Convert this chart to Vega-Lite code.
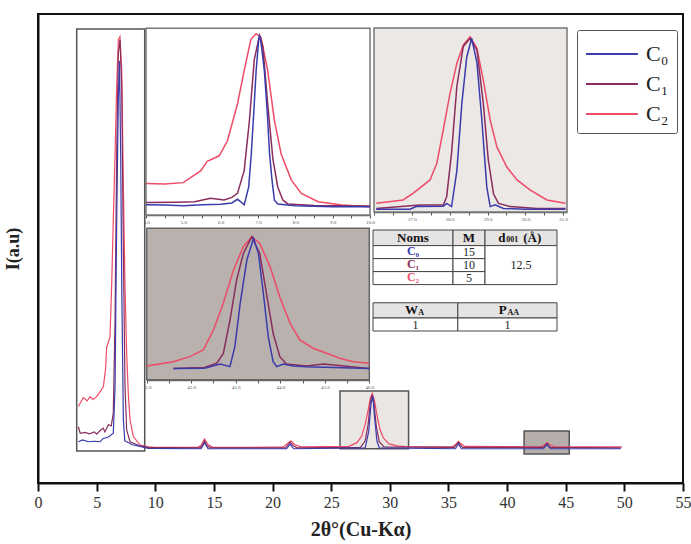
{
  "$schema": "https://vega.github.io/schema/vega-lite/v6.json",
  "width": 645,
  "height": 469,
  "autosize": {"type": "none"},
  "padding": {"left": 38, "top": 14, "right": 8, "bottom": 61},
  "background": "white",
  "config": {
    "view": {"stroke": "#111", "strokeWidth": 2},
    "font": "Liberation Serif",
    "axis": {"grid": false}
  },
  "resolve": {
    "scale": {"x": "independent", "y": "independent", "fill": "independent"},
    "axis": {"x": "independent", "y": "independent"}
  },
  "datasets": {
    "boxes": [
      {"k": "b1", "x0": 3.3, "x1": 9.1, "y0": 6.8, "y1": 96.8},
      {"k": "b2", "x0": 25.75, "x1": 31.6, "y0": 7.3, "y1": 19.6},
      {"k": "b3", "x0": 41.45, "x1": 45.3, "y0": 6.2, "y1": 11.1}
    ],
    "main": [
      {"s": "C₂", "x": 3.44, "y": 16.3}, {"s": "C₂", "x": 3.86, "y": 18.2}, {"s": "C₂", "x": 4.2, "y": 17.5}, {"s": "C₂", "x": 4.43, "y": 18.4}, {"s": "C₂", "x": 4.7, "y": 17.8}, {"s": "C₂", "x": 5.0, "y": 18.4}, {"s": "C₂", "x": 5.3, "y": 19.5}, {"s": "C₂", "x": 5.57, "y": 20.5}, {"s": "C₂", "x": 5.75, "y": 24}, {"s": "C₂", "x": 5.86, "y": 29}, {"s": "C₂", "x": 6.0, "y": 30}, {"s": "C₂", "x": 6.14, "y": 31.2}, {"s": "C₂", "x": 6.28, "y": 41.9}, {"s": "C₂", "x": 6.42, "y": 56}, {"s": "C₂", "x": 6.57, "y": 70}, {"s": "C₂", "x": 6.71, "y": 84.5}, {"s": "C₂", "x": 6.85, "y": 94.5}, {"s": "C₂", "x": 6.99, "y": 95.2}, {"s": "C₂", "x": 7.14, "y": 88}, {"s": "C₂", "x": 7.28, "y": 63}, {"s": "C₂", "x": 7.42, "y": 41.9}, {"s": "C₂", "x": 7.56, "y": 27.7}, {"s": "C₂", "x": 7.7, "y": 19}, {"s": "C₂", "x": 7.85, "y": 13.4}, {"s": "C₂", "x": 8.13, "y": 9.9}, {"s": "C₂", "x": 8.7, "y": 8.1}, {"s": "C₂", "x": 9.41, "y": 7.7}, {"s": "C₂", "x": 10, "y": 7.6}, {"s": "C₂", "x": 13.6, "y": 7.6}, {"s": "C₂", "x": 13.9, "y": 8.0}, {"s": "C₂", "x": 14.2, "y": 9.4}, {"s": "C₂", "x": 14.5, "y": 8.2}, {"s": "C₂", "x": 14.9, "y": 7.6}, {"s": "C₂", "x": 18, "y": 7.6}, {"s": "C₂", "x": 20.9, "y": 7.7}, {"s": "C₂", "x": 21.3, "y": 8.5}, {"s": "C₂", "x": 21.55, "y": 9.0}, {"s": "C₂", "x": 21.9, "y": 8.2}, {"s": "C₂", "x": 22.4, "y": 7.7}, {"s": "C₂", "x": 26.5, "y": 7.8}, {"s": "C₂", "x": 27.2, "y": 8.6}, {"s": "C₂", "x": 27.6, "y": 10}, {"s": "C₂", "x": 27.9, "y": 12.5}, {"s": "C₂", "x": 28.15, "y": 15.5}, {"s": "C₂", "x": 28.35, "y": 18.2}, {"s": "C₂", "x": 28.5, "y": 19.1}, {"s": "C₂", "x": 28.7, "y": 17.5}, {"s": "C₂", "x": 28.9, "y": 14.5}, {"s": "C₂", "x": 29.15, "y": 11.5}, {"s": "C₂", "x": 29.45, "y": 9.6}, {"s": "C₂", "x": 29.9, "y": 8.4}, {"s": "C₂", "x": 30.6, "y": 7.9}, {"s": "C₂", "x": 31.5, "y": 7.7}, {"s": "C₂", "x": 35.3, "y": 7.7}, {"s": "C₂", "x": 35.6, "y": 8.2}, {"s": "C₂", "x": 35.85, "y": 8.9}, {"s": "C₂", "x": 36.1, "y": 8.3}, {"s": "C₂", "x": 36.4, "y": 7.8}, {"s": "C₂", "x": 42.8, "y": 7.7}, {"s": "C₂", "x": 43.1, "y": 8.0}, {"s": "C₂", "x": 43.4, "y": 8.6}, {"s": "C₂", "x": 43.7, "y": 8.1}, {"s": "C₂", "x": 44.1, "y": 7.7}, {"s": "C₂", "x": 49.8, "y": 7.7},
      {"s": "C₁", "x": 3.44, "y": 12}, {"s": "C₁", "x": 3.6, "y": 10.6}, {"s": "C₁", "x": 4.0, "y": 10.8}, {"s": "C₁", "x": 4.4, "y": 10.5}, {"s": "C₁", "x": 4.8, "y": 10.9}, {"s": "C₁", "x": 5.0, "y": 10.4}, {"s": "C₁", "x": 5.3, "y": 11.2}, {"s": "C₁", "x": 5.57, "y": 11.7}, {"s": "C₁", "x": 5.7, "y": 10.9}, {"s": "C₁", "x": 5.85, "y": 11.6}, {"s": "C₁", "x": 6.0, "y": 12.4}, {"s": "C₁", "x": 6.25, "y": 12.2}, {"s": "C₁", "x": 6.42, "y": 14.9}, {"s": "C₁", "x": 6.57, "y": 34.8}, {"s": "C₁", "x": 6.71, "y": 70.3}, {"s": "C₁", "x": 6.85, "y": 91.6}, {"s": "C₁", "x": 6.99, "y": 94.5}, {"s": "C₁", "x": 7.14, "y": 84.5}, {"s": "C₁", "x": 7.28, "y": 49}, {"s": "C₁", "x": 7.42, "y": 20.5}, {"s": "C₁", "x": 7.56, "y": 11.3}, {"s": "C₁", "x": 7.85, "y": 8.8}, {"s": "C₁", "x": 8.7, "y": 7.9}, {"s": "C₁", "x": 9.4, "y": 7.6}, {"s": "C₁", "x": 13.8, "y": 7.5}, {"s": "C₁", "x": 14.0, "y": 8.0}, {"s": "C₁", "x": 14.2, "y": 9.0}, {"s": "C₁", "x": 14.4, "y": 8.0}, {"s": "C₁", "x": 14.7, "y": 7.5}, {"s": "C₁", "x": 21.1, "y": 7.5}, {"s": "C₁", "x": 21.35, "y": 8.3}, {"s": "C₁", "x": 21.5, "y": 8.7}, {"s": "C₁", "x": 21.75, "y": 8.0}, {"s": "C₁", "x": 22.1, "y": 7.5}, {"s": "C₁", "x": 27.5, "y": 7.6}, {"s": "C₁", "x": 27.9, "y": 9.0}, {"s": "C₁", "x": 28.15, "y": 12.5}, {"s": "C₁", "x": 28.35, "y": 17.5}, {"s": "C₁", "x": 28.5, "y": 18.8}, {"s": "C₁", "x": 28.65, "y": 17}, {"s": "C₁", "x": 28.85, "y": 12}, {"s": "C₁", "x": 29.1, "y": 8.8}, {"s": "C₁", "x": 29.5, "y": 7.7}, {"s": "C₁", "x": 35.5, "y": 7.6}, {"s": "C₁", "x": 35.85, "y": 8.7}, {"s": "C₁", "x": 36.2, "y": 7.6}, {"s": "C₁", "x": 43.1, "y": 7.6}, {"s": "C₁", "x": 43.4, "y": 8.5}, {"s": "C₁", "x": 43.7, "y": 7.6}, {"s": "C₁", "x": 49.7, "y": 7.5},
      {"s": "C₀", "x": 3.44, "y": 8.8}, {"s": "C₀", "x": 3.8, "y": 9.2}, {"s": "C₀", "x": 4.3, "y": 8.8}, {"s": "C₀", "x": 4.8, "y": 8.9}, {"s": "C₀", "x": 5.3, "y": 8.8}, {"s": "C₀", "x": 5.57, "y": 9.5}, {"s": "C₀", "x": 6.0, "y": 9.8}, {"s": "C₀", "x": 6.42, "y": 10.6}, {"s": "C₀", "x": 6.57, "y": 20.5}, {"s": "C₀", "x": 6.71, "y": 56}, {"s": "C₀", "x": 6.85, "y": 82}, {"s": "C₀", "x": 6.95, "y": 90}, {"s": "C₀", "x": 7.05, "y": 70}, {"s": "C₀", "x": 7.15, "y": 40}, {"s": "C₀", "x": 7.28, "y": 13.4}, {"s": "C₀", "x": 7.4, "y": 9}, {"s": "C₀", "x": 7.56, "y": 8.8}, {"s": "C₀", "x": 8.0, "y": 8.2}, {"s": "C₀", "x": 8.7, "y": 7.8}, {"s": "C₀", "x": 9.4, "y": 7.4}, {"s": "C₀", "x": 13.9, "y": 7.3}, {"s": "C₀", "x": 14.2, "y": 8.6}, {"s": "C₀", "x": 14.5, "y": 7.3}, {"s": "C₀", "x": 21.2, "y": 7.3}, {"s": "C₀", "x": 21.5, "y": 8.3}, {"s": "C₀", "x": 21.8, "y": 7.3}, {"s": "C₀", "x": 27.9, "y": 7.5}, {"s": "C₀", "x": 28.2, "y": 11}, {"s": "C₀", "x": 28.4, "y": 17}, {"s": "C₀", "x": 28.55, "y": 18.5}, {"s": "C₀", "x": 28.7, "y": 14}, {"s": "C₀", "x": 28.9, "y": 9}, {"s": "C₀", "x": 29.1, "y": 7.5}, {"s": "C₀", "x": 35.6, "y": 7.3}, {"s": "C₀", "x": 35.85, "y": 8.4}, {"s": "C₀", "x": 36.1, "y": 7.3}, {"s": "C₀", "x": 43.1, "y": 7.3}, {"s": "C₀", "x": 43.4, "y": 8.2}, {"s": "C₀", "x": 43.7, "y": 7.3}, {"s": "C₀", "x": 49.7, "y": 7.3}
    ],
    "bgA": [{"x0": 4, "x1": 10, "y0": 0, "y1": 101}],
    "insetA": [
      {"s": "C₂", "x": 4.0, "y": 17}, {"s": "C₂", "x": 4.5, "y": 16.8}, {"s": "C₂", "x": 5.0, "y": 17.5}, {"s": "C₂", "x": 5.47, "y": 24}, {"s": "C₂", "x": 5.64, "y": 29}, {"s": "C₂", "x": 5.96, "y": 32}, {"s": "C₂", "x": 6.18, "y": 40}, {"s": "C₂", "x": 6.45, "y": 60}, {"s": "C₂", "x": 6.63, "y": 78}, {"s": "C₂", "x": 6.81, "y": 95}, {"s": "C₂", "x": 6.95, "y": 98}, {"s": "C₂", "x": 7.08, "y": 96}, {"s": "C₂", "x": 7.26, "y": 78}, {"s": "C₂", "x": 7.44, "y": 51}, {"s": "C₂", "x": 7.62, "y": 33}, {"s": "C₂", "x": 7.89, "y": 19}, {"s": "C₂", "x": 8.16, "y": 11.7}, {"s": "C₂", "x": 8.61, "y": 7.2}, {"s": "C₂", "x": 9.24, "y": 5.4}, {"s": "C₂", "x": 10, "y": 4.5},
      {"s": "C₁", "x": 4.0, "y": 6.7}, {"s": "C₁", "x": 4.8, "y": 6.9}, {"s": "C₁", "x": 5.3, "y": 7.2}, {"s": "C₁", "x": 5.73, "y": 9}, {"s": "C₁", "x": 6.09, "y": 8.1}, {"s": "C₁", "x": 6.3, "y": 9.5}, {"s": "C₁", "x": 6.45, "y": 11.7}, {"s": "C₁", "x": 6.63, "y": 24}, {"s": "C₁", "x": 6.77, "y": 51}, {"s": "C₁", "x": 6.9, "y": 84}, {"s": "C₁", "x": 7.04, "y": 97}, {"s": "C₁", "x": 7.13, "y": 91}, {"s": "C₁", "x": 7.26, "y": 60}, {"s": "C₁", "x": 7.4, "y": 30}, {"s": "C₁", "x": 7.53, "y": 15}, {"s": "C₁", "x": 7.67, "y": 8}, {"s": "C₁", "x": 7.8, "y": 6}, {"s": "C₁", "x": 8.5, "y": 5.2}, {"s": "C₁", "x": 10, "y": 4.8},
      {"s": "C₀", "x": 4.0, "y": 5.5}, {"s": "C₀", "x": 4.5, "y": 5.4}, {"s": "C₀", "x": 5.0, "y": 5.0}, {"s": "C₀", "x": 5.5, "y": 5.5}, {"s": "C₀", "x": 6.0, "y": 5.8}, {"s": "C₀", "x": 6.3, "y": 6.5}, {"s": "C₀", "x": 6.45, "y": 8.5}, {"s": "C₀", "x": 6.55, "y": 7}, {"s": "C₀", "x": 6.63, "y": 5.5}, {"s": "C₀", "x": 6.75, "y": 15}, {"s": "C₀", "x": 6.82, "y": 33}, {"s": "C₀", "x": 6.9, "y": 60}, {"s": "C₀", "x": 6.95, "y": 78}, {"s": "C₀", "x": 7.02, "y": 95}, {"s": "C₀", "x": 7.05, "y": 97}, {"s": "C₀", "x": 7.1, "y": 90}, {"s": "C₀", "x": 7.17, "y": 78}, {"s": "C₀", "x": 7.25, "y": 55}, {"s": "C₀", "x": 7.31, "y": 33}, {"s": "C₀", "x": 7.38, "y": 18}, {"s": "C₀", "x": 7.44, "y": 8}, {"s": "C₀", "x": 7.53, "y": 5.9}, {"s": "C₀", "x": 8.0, "y": 5.0}, {"s": "C₀", "x": 9.0, "y": 4.5}, {"s": "C₀", "x": 10, "y": 4.5}
    ],
    "bgB": [{"x0": 26, "x1": 31.1, "y0": 0, "y1": 102.2}],
    "insetB": [
      {"s": "C₂", "x": 26.06, "y": 4.8}, {"s": "C₂", "x": 26.77, "y": 6.7}, {"s": "C₂", "x": 27.03, "y": 10.4}, {"s": "C₂", "x": 27.48, "y": 17.8}, {"s": "C₂", "x": 27.66, "y": 27}, {"s": "C₂", "x": 27.83, "y": 45.6}, {"s": "C₂", "x": 28.01, "y": 66}, {"s": "C₂", "x": 28.19, "y": 82.6}, {"s": "C₂", "x": 28.36, "y": 92.8}, {"s": "C₂", "x": 28.54, "y": 97.4}, {"s": "C₂", "x": 28.72, "y": 91}, {"s": "C₂", "x": 28.89, "y": 73}, {"s": "C₂", "x": 29.07, "y": 51}, {"s": "C₂", "x": 29.25, "y": 36}, {"s": "C₂", "x": 29.51, "y": 25}, {"s": "C₂", "x": 29.78, "y": 17.8}, {"s": "C₂", "x": 30.13, "y": 12.2}, {"s": "C₂", "x": 30.57, "y": 6.7}, {"s": "C₂", "x": 31.06, "y": 4.8},
      {"s": "C₁", "x": 26.06, "y": 2}, {"s": "C₁", "x": 27.21, "y": 3.9}, {"s": "C₁", "x": 27.83, "y": 3.9}, {"s": "C₁", "x": 27.92, "y": 8.5}, {"s": "C₁", "x": 28.05, "y": 33}, {"s": "C₁", "x": 28.19, "y": 70}, {"s": "C₁", "x": 28.36, "y": 92}, {"s": "C₁", "x": 28.54, "y": 96.5}, {"s": "C₁", "x": 28.72, "y": 90}, {"s": "C₁", "x": 28.89, "y": 60}, {"s": "C₁", "x": 29.02, "y": 29}, {"s": "C₁", "x": 29.16, "y": 10}, {"s": "C₁", "x": 29.29, "y": 4.8}, {"s": "C₁", "x": 29.6, "y": 3}, {"s": "C₁", "x": 30.31, "y": 2}, {"s": "C₁", "x": 31.06, "y": 2},
      {"s": "C₀", "x": 26.06, "y": 1.5}, {"s": "C₀", "x": 26.95, "y": 1.5}, {"s": "C₀", "x": 27.12, "y": 3}, {"s": "C₀", "x": 27.83, "y": 3.2}, {"s": "C₀", "x": 27.92, "y": 4.8}, {"s": "C₀", "x": 28.05, "y": 3}, {"s": "C₀", "x": 28.19, "y": 23}, {"s": "C₀", "x": 28.32, "y": 60}, {"s": "C₀", "x": 28.45, "y": 86}, {"s": "C₀", "x": 28.58, "y": 96.5}, {"s": "C₀", "x": 28.72, "y": 83}, {"s": "C₀", "x": 28.85, "y": 51}, {"s": "C₀", "x": 28.98, "y": 14}, {"s": "C₀", "x": 29.07, "y": 3}, {"s": "C₀", "x": 29.2, "y": 4}, {"s": "C₀", "x": 29.42, "y": 2}, {"s": "C₀", "x": 30, "y": 1.5}, {"s": "C₀", "x": 31.06, "y": 1.5}
    ],
    "bgC": [{"x0": 41, "x1": 46, "y0": 0, "y1": 104.4}],
    "insetC": [
      {"s": "C₂", "x": 41, "y": 9.4}, {"s": "C₂", "x": 41.6, "y": 12.4}, {"s": "C₂", "x": 41.97, "y": 15.9}, {"s": "C₂", "x": 42.27, "y": 20.5}, {"s": "C₂", "x": 42.5, "y": 34.3}, {"s": "C₂", "x": 42.72, "y": 52.7}, {"s": "C₂", "x": 42.95, "y": 75.7}, {"s": "C₂", "x": 43.17, "y": 91.7}, {"s": "C₂", "x": 43.36, "y": 98.6}, {"s": "C₂", "x": 43.54, "y": 94}, {"s": "C₂", "x": 43.77, "y": 78}, {"s": "C₂", "x": 43.99, "y": 57}, {"s": "C₂", "x": 44.22, "y": 38.9}, {"s": "C₂", "x": 44.44, "y": 27.4}, {"s": "C₂", "x": 44.74, "y": 21.7}, {"s": "C₂", "x": 45.04, "y": 18.2}, {"s": "C₂", "x": 45.34, "y": 14.8}, {"s": "C₂", "x": 45.64, "y": 12.4}, {"s": "C₂", "x": 46, "y": 11.3},
      {"s": "C₁", "x": 41.6, "y": 7.8}, {"s": "C₁", "x": 42.3, "y": 8.5}, {"s": "C₁", "x": 42.57, "y": 11.3}, {"s": "C₁", "x": 42.72, "y": 18}, {"s": "C₁", "x": 42.87, "y": 41}, {"s": "C₁", "x": 43.02, "y": 68.8}, {"s": "C₁", "x": 43.17, "y": 87}, {"s": "C₁", "x": 43.36, "y": 98.6}, {"s": "C₁", "x": 43.54, "y": 87}, {"s": "C₁", "x": 43.69, "y": 59.6}, {"s": "C₁", "x": 43.84, "y": 32}, {"s": "C₁", "x": 43.99, "y": 15.9}, {"s": "C₁", "x": 44.14, "y": 10.8}, {"s": "C₁", "x": 44.59, "y": 9.5}, {"s": "C₁", "x": 44.97, "y": 10.8}, {"s": "C₁", "x": 46, "y": 7.8},
      {"s": "C₀", "x": 41.6, "y": 7.8}, {"s": "C₀", "x": 42.3, "y": 7.9}, {"s": "C₀", "x": 42.65, "y": 10.8}, {"s": "C₀", "x": 42.87, "y": 9}, {"s": "C₀", "x": 42.98, "y": 22.8}, {"s": "C₀", "x": 43.1, "y": 52.7}, {"s": "C₀", "x": 43.25, "y": 82.6}, {"s": "C₀", "x": 43.4, "y": 97.5}, {"s": "C₀", "x": 43.51, "y": 87}, {"s": "C₀", "x": 43.62, "y": 59.6}, {"s": "C₀", "x": 43.73, "y": 29.7}, {"s": "C₀", "x": 43.84, "y": 12.4}, {"s": "C₀", "x": 43.92, "y": 9}, {"s": "C₀", "x": 44.07, "y": 10.8}, {"s": "C₀", "x": 44.29, "y": 9.5}, {"s": "C₀", "x": 44.59, "y": 9}, {"s": "C₀", "x": 46, "y": 7.8}
    ],
    "cells": [
      {"part": "head", "x0": 0, "x1": 10, "y0": 0, "y1": 1.2},
      {"part": "head", "x0": 10, "x1": 14, "y0": 0, "y1": 1.2},
      {"part": "head", "x0": 14, "x1": 23, "y0": 0, "y1": 1.2},
      {"part": "body", "x0": 0, "x1": 10, "y0": 1.2, "y1": 2.2},
      {"part": "body", "x0": 10, "x1": 14, "y0": 1.2, "y1": 2.2},
      {"part": "body", "x0": 0, "x1": 10, "y0": 2.2, "y1": 3.2},
      {"part": "body", "x0": 10, "x1": 14, "y0": 2.2, "y1": 3.2},
      {"part": "body", "x0": 0, "x1": 10, "y0": 3.2, "y1": 4.2},
      {"part": "body", "x0": 10, "x1": 14, "y0": 3.2, "y1": 4.2},
      {"part": "body", "x0": 14, "x1": 23, "y0": 1.2, "y1": 4.2},
      {"part": "head", "x0": 0, "x1": 10.6, "y0": 5.6, "y1": 6.77},
      {"part": "head", "x0": 10.6, "x1": 23, "y0": 5.6, "y1": 6.77},
      {"part": "body", "x0": 0, "x1": 10.6, "y0": 6.77, "y1": 7.77},
      {"part": "body", "x0": 10.6, "x1": 23, "y0": 6.77, "y1": 7.77}
    ],
    "heads": [
      {"tx": 5, "ty": 0.6, "t": "Noms"},
      {"tx": 12, "ty": 0.6, "t": "M"},
      {"tx": 16.1, "ty": 0.6, "t": "d"},
      {"tx": 19.9, "ty": 0.6, "t": "(Å)"},
      {"tx": 4.8, "ty": 6.18, "t": "W"},
      {"tx": 16.2, "ty": 6.18, "t": "P"}
    ],
    "subs": [
      {"tx": 16.65, "ty": 0.8, "t": "001"},
      {"tx": 5.65, "ty": 6.4, "t": "A"},
      {"tx": 16.8, "ty": 6.4, "t": "AA"}
    ],
    "vals": [
      {"tx": 12, "ty": 1.7, "t": "15"},
      {"tx": 12, "ty": 2.7, "t": "10"},
      {"tx": 12, "ty": 3.7, "t": "5"},
      {"tx": 18.5, "ty": 2.7, "t": "12.5"},
      {"tx": 5.3, "ty": 7.27, "t": "1"},
      {"tx": 16.8, "ty": 7.27, "t": "1"}
    ],
    "names": [
      {"tx": 5, "ty": 1.65, "s": "C₀"},
      {"tx": 5, "ty": 2.65, "s": "C₁"},
      {"tx": 5, "ty": 3.65, "s": "C₂"}
    ]
  },
  "layer": [
    {
      "layer": [
        {
          "data": {"name": "boxes"},
          "mark": {"type": "rect", "stroke": "#555", "strokeWidth": 1.5},
          "encoding": {
            "x": {"field": "x0", "type": "quantitative", "scale": {"domain": [0, 55], "nice": false, "zero": false},
              "axis": {"title": "2θ°(Cu-Kα)", "values": [0, 2.5, 5, 7.5, 10, 12.5, 15, 17.5, 20, 22.5, 25, 27.5, 30, 32.5, 35, 37.5, 40, 42.5, 45, 47.5, 50, 52.5, 55],
                "labelExpr": "datum.value % 5 === 0 ? datum.label : ''",
                "tickSize": {"condition": {"test": "datum.value % 5 === 0", "value": 8}, "value": 5},
                "tickWidth": 2, "tickColor": "#111", "domainColor": "#111", "domainWidth": 2,
                "labelFont": "Liberation Serif", "labelFontSize": 16, "labelColor": "#333", "labelPadding": 3, "labelFlush": false, "labelOverlap": false,
                "titleFont": "Liberation Serif", "titleFontSize": 20, "titleFontWeight": "bold", "titleColor": "#222", "titlePadding": 9}},
            "x2": {"field": "x1"},
            "y": {"field": "y0", "type": "quantitative", "scale": {"domain": [0, 100], "nice": false, "zero": false},
              "axis": {"title": "I(a.u)", "labels": false, "ticks": false, "domain": true, "domainColor": "#111", "domainWidth": 2,
                "titleFont": "Liberation Serif", "titleFontSize": 18, "titleFontWeight": "bold", "titleColor": "#222", "titlePadding": 16}},
            "y2": {"field": "y1"},
            "fill": {"field": "k", "type": "nominal", "scale": {"domain": ["b1", "b2", "b3"], "range": ["#ffffff", "#e9e6e4", "#b5aeab"]}, "legend": null}
          }
        },
        {
          "data": {"name": "main"},
          "mark": {"type": "line", "strokeWidth": 1.2},
          "encoding": {
            "x": {"field": "x", "type": "quantitative"},
            "y": {"field": "y", "type": "quantitative"},
            "color": {"field": "s", "type": "nominal",
              "scale": {"domain": ["C₀", "C₁", "C₂"], "range": ["#3b3bab", "#8a2d5c", "#ee4b66"]},
              "legend": {"title": null, "orient": "none", "legendX": 539, "legendY": 16, "symbolType": "M-1,0H2.46", "symbolSize": 900, "symbolStrokeWidth": 2,
                "labelFont": "Liberation Serif", "labelFontSize": 22, "labelColor": "#222", "labelOffset": 29, "rowPadding": 3, "padding": 8,
                "strokeColor": "#555", "fillColor": "white", "cornerRadius": 2}}
          }
        }
      ]
    },
    {
      "layer": [
        {
          "data": {"name": "bgA"},
          "mark": {"type": "rect", "fill": "#ffffff", "stroke": "#777", "strokeWidth": 1.5},
          "encoding": {
            "x": {"field": "x0", "type": "quantitative", "scale": {"domain": [4, 10], "range": [108, 332], "nice": false, "zero": false},
              "axis": {"orient": "bottom", "offset": -268, "title": null, "values": [4, 4.5, 5, 5.5, 6, 6.5, 7, 7.5, 8, 8.5, 9, 9.5, 10],
                "labelExpr": "datum.value % 1 === 0 ? datum.label : ''", "tickSize": 3, "tickColor": "#555", "domainColor": "#666", "domainWidth": 1.5,
                "labelFontSize": 5, "labelColor": "#555", "labelPadding": 1, "labelFlush": false, "labelOverlap": false}},
            "x2": {"field": "x1"},
            "y": {"field": "y0", "type": "quantitative", "scale": {"domain": [0, 100], "range": [201, 16], "nice": false, "zero": false}, "axis": null},
            "y2": {"field": "y1"}
          }
        },
        {
          "data": {"name": "insetA"},
          "mark": {"type": "line", "strokeWidth": 1.5},
          "encoding": {
            "x": {"field": "x", "type": "quantitative"},
            "y": {"field": "y", "type": "quantitative"},
            "color": {"field": "s", "type": "nominal"}
          }
        }
      ]
    },
    {
      "layer": [
        {
          "data": {"name": "bgB"},
          "mark": {"type": "rect", "fill": "#ebe8e6", "stroke": "#777", "strokeWidth": 1.5},
          "encoding": {
            "x": {"field": "x0", "type": "quantitative", "scale": {"domain": [26, 31.1], "range": [336, 529], "nice": false, "zero": false},
              "axis": {"orient": "bottom", "offset": -271, "title": null, "values": [26, 26.5, 27, 27.5, 28, 28.5, 29, 29.5, 30, 30.5, 31],
                "labelExpr": "datum.value % 1 === 0 && datum.value > 26 ? datum.label : ''", "tickSize": 3, "tickColor": "#555", "domainColor": "#666", "domainWidth": 1.5,
                "labelFontSize": 5, "labelColor": "#555", "labelPadding": 1, "labelFlush": false, "labelOverlap": false}},
            "x2": {"field": "x1"},
            "y": {"field": "y0", "type": "quantitative", "scale": {"domain": [0, 100], "range": [198, 18], "nice": false, "zero": false}, "axis": null},
            "y2": {"field": "y1"}
          }
        },
        {
          "data": {"name": "insetB"},
          "mark": {"type": "line", "strokeWidth": 1.5},
          "encoding": {
            "x": {"field": "x", "type": "quantitative"},
            "y": {"field": "y", "type": "quantitative"},
            "color": {"field": "s", "type": "nominal"}
          }
        }
      ]
    },
    {
      "layer": [
        {
          "data": {"name": "bgC"},
          "mark": {"type": "rect", "fill": "#b8b1ae", "stroke": "#666", "strokeWidth": 1.5},
          "encoding": {
            "x": {"field": "x0", "type": "quantitative", "scale": {"domain": [41, 46], "range": [108.7, 331.3], "nice": false, "zero": false},
              "axis": {"orient": "bottom", "offset": -103, "title": null, "values": [41, 41.5, 42, 42.5, 43, 43.5, 44, 44.5, 45, 45.5, 46],
                "labelExpr": "datum.value % 1 === 0 ? datum.label : ''", "tickSize": 3, "tickColor": "#555", "domainColor": "#666", "domainWidth": 1.5,
                "labelFontSize": 5, "labelColor": "#555", "labelPadding": 1, "labelFlush": false, "labelOverlap": false}},
            "x2": {"field": "x1"},
            "y": {"field": "y0", "type": "quantitative", "scale": {"domain": [0, 100], "range": [365.7, 220.7], "nice": false, "zero": false}, "axis": null},
            "y2": {"field": "y1"}
          }
        },
        {
          "data": {"name": "insetC"},
          "mark": {"type": "line", "strokeWidth": 1.5},
          "encoding": {
            "x": {"field": "x", "type": "quantitative"},
            "y": {"field": "y", "type": "quantitative"},
            "color": {"field": "s", "type": "nominal"}
          }
        }
      ]
    },
    {
      "layer": [
        {
          "data": {"name": "cells"},
          "mark": {"type": "rect", "stroke": "#444", "strokeWidth": 1},
          "encoding": {
            "x": {"field": "x0", "type": "quantitative", "scale": {"domain": [0, 23], "range": [335, 519], "nice": false, "zero": false}, "axis": null},
            "x2": {"field": "x1"},
            "y": {"field": "y0", "type": "quantitative", "scale": {"domain": [0, 7.77], "range": [216, 317], "nice": false, "zero": false}, "axis": null},
            "y2": {"field": "y1"},
            "fill": {"field": "part", "type": "nominal", "scale": {"domain": ["head", "body"], "range": ["#e6e3e3", "#ffffff"]}, "legend": null}
          }
        },
        {
          "data": {"name": "heads"},
          "mark": {"type": "text", "font": "Liberation Serif", "fontSize": 13, "fontWeight": "bold", "color": "#111", "baseline": "middle"},
          "encoding": {
            "x": {"field": "tx", "type": "quantitative"},
            "y": {"field": "ty", "type": "quantitative"},
            "text": {"field": "t"}
          }
        },
        {
          "data": {"name": "subs"},
          "mark": {"type": "text", "font": "Liberation Serif", "fontSize": 8, "fontWeight": "bold", "color": "#111", "baseline": "middle", "align": "left"},
          "encoding": {
            "x": {"field": "tx", "type": "quantitative"},
            "y": {"field": "ty", "type": "quantitative"},
            "text": {"field": "t"}
          }
        },
        {
          "data": {"name": "vals"},
          "mark": {"type": "text", "font": "Liberation Serif", "fontSize": 12, "color": "#222", "baseline": "middle"},
          "encoding": {
            "x": {"field": "tx", "type": "quantitative"},
            "y": {"field": "ty", "type": "quantitative"},
            "text": {"field": "t"}
          }
        },
        {
          "data": {"name": "names"},
          "mark": {"type": "text", "font": "Liberation Serif", "fontSize": 12, "fontWeight": "bold", "baseline": "middle"},
          "encoding": {
            "x": {"field": "tx", "type": "quantitative"},
            "y": {"field": "ty", "type": "quantitative"},
            "text": {"field": "s"},
            "color": {"field": "s", "type": "nominal", "scale": {"domain": ["C₀", "C₁", "C₂"], "range": ["#3b3bab", "#8a2d5c", "#ee4b66"]}, "legend": null}
          }
        }
      ]
    }
  ]
}
